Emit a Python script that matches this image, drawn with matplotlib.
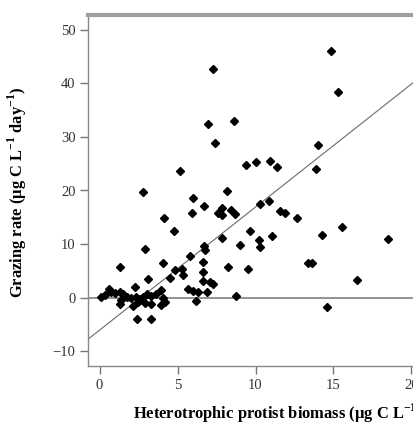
import matplotlib as mpl
mpl.use('Agg')
import matplotlib.pyplot as plt
import numpy as np

#=========================================================================
# Data
#=========================================================================
biomass = [7.29, 14.84, 15.31, 6.96, 8.63, 7.42, 14.03, 13.85, 5.13, 9.36,
           10.01, 10.96, 11.40, 2.76, 8.15, 5.98, 6.70, 7.83, 7.62, 7.87,
           8.43, 8.70, 10.29, 10.85, 11.55, 11.92, 12.69, 5.96, 4.13, 4.76,
           9.65, 15.56, 14.26, 18.48, 7.88, 11.08, 10.24, 2.92, 9.01, 6.67,
           6.73, 10.31, 5.77, 13.37, 13.62, 1.30, 4.06, 6.62, 8.22, 9.54,
           6.62, 6.62, 7.08, 7.29, 16.53, 14.56, 8.73, 6.19, 5.69, 5.99,
           6.33, 6.87, 2.37, 3.28, 3.12, 4.85, 5.29, 4.51, 5.38, 2.26,
           0.59, 0.12, 0.37, 0.76, 1.01, 1.29, 1.51, 1.76, 1.40, 1.29,
           2.04, 2.36, 2.58, 2.79, 3.06, 3.32, 2.47, 2.15, 2.94, 3.32,
           3.64, 3.92, 4.07, 3.92, 4.18]
grazing = [42.65, 46.07, 38.32, 32.34, 32.99, 28.93, 28.50, 24.06, 23.70, 24.71,
           25.27, 25.55, 24.30, 19.63, 19.87, 18.65, 17.01, 16.79, 15.74, 15.42,
           16.30, 15.66, 17.44, 17.98, 16.13, 15.79, 14.80, 15.74, 14.90, 12.52,
           12.47, 13.12, 11.63, 10.99, 11.18, 11.44, 10.80, 9.03, 9.78, 9.63,
           8.79, 9.35, 7.70, 6.54, 6.54, 5.70, 6.49, 6.58, 5.76, 5.38,
           4.73, 3.05, 2.95, 2.49, 3.27, -1.72, 0.28, -0.65, 1.59, 1.21,
           1.08, 0.99, -3.96, -3.96, 3.42, 5.14, 5.33, 3.74, 4.21, 1.91,
           1.53, 0.15, 0.47, 0.97, 0.79, 1.08, 0.60, 0.15, -0.47, -1.27,
           -0.15, 0.15, -0.28, 0.15, 0.60, 0.34, -0.90, -1.53, -1.08, -1.27,
           0.60, 1.40, -0.04, -1.40, -0.79]

# fitted regression line
slope = 2.30
intercept = -6.10

xticks = [0, 5, 10, 15, 20]
yticks = [-10, 0, 10, 20, 30, 40, 50]

#=========================================================================
# Style
#=========================================================================
plt.rc('font', family='Liberation Serif', size=10.5)
plt.rc('mathtext', fontset='custom', rm='Liberation Serif',
       bf='Liberation Serif:bold')
plt.rc('axes', unicode_minus=True)

xmin, xmax = -0.74, 21.83
ymin, ymax = -12.8, 52.8

fig = plt.figure(figsize=(4.14, 4.23), dpi=100)
# axes deliberately runs past the right edge (figure is cropped)
ax = fig.add_axes([88 / 414, 57 / 423, 352 / 414, 351 / 423])

ax.axhline(0, color='#8a8a8a', lw=1.3, zorder=1)
xl = np.array([xmin, xmax])
ax.plot(xl, intercept + slope * xl, color='#6a6a6a', lw=0.8, zorder=1)
ax.plot(biomass, grazing, ls='none', marker='D', ms=4.0, color='black',
        mec='black', zorder=3)

ax.set_xlim(xmin, xmax)
ax.set_ylim(ymin, ymax)
ax.set_xticks(xticks)
ax.set_yticks(yticks)
ax.tick_params(direction='out', length=6, width=1, color='#777777',
               labelcolor='#333333', pad=3)

for s in ['left', 'bottom']:
    ax.spines[s].set_color('#888888')
    ax.spines[s].set_linewidth(1.0)
ax.spines['top'].set_color('#a0a0a0')
ax.spines['top'].set_linewidth(3)
ax.spines['right'].set_visible(False)

ax.set_xlabel(r'Heterotrophic protist biomass (μg C L$^{\mathbf{-1}}$)',
              fontweight='bold', fontsize=11.9, ha='left')
ax.xaxis.set_label_coords((133 - 88) / 352, -0.102)
ax.set_ylabel(r'Grazing rate (μg C L$^{\mathbf{-1}}$ day$^{\mathbf{-1}}$)',
              fontweight='bold', fontsize=11.9)
ax.yaxis.set_label_coords(-0.167, (366 - 192) / 351)

plt.savefig('out.png', dpi=100)
